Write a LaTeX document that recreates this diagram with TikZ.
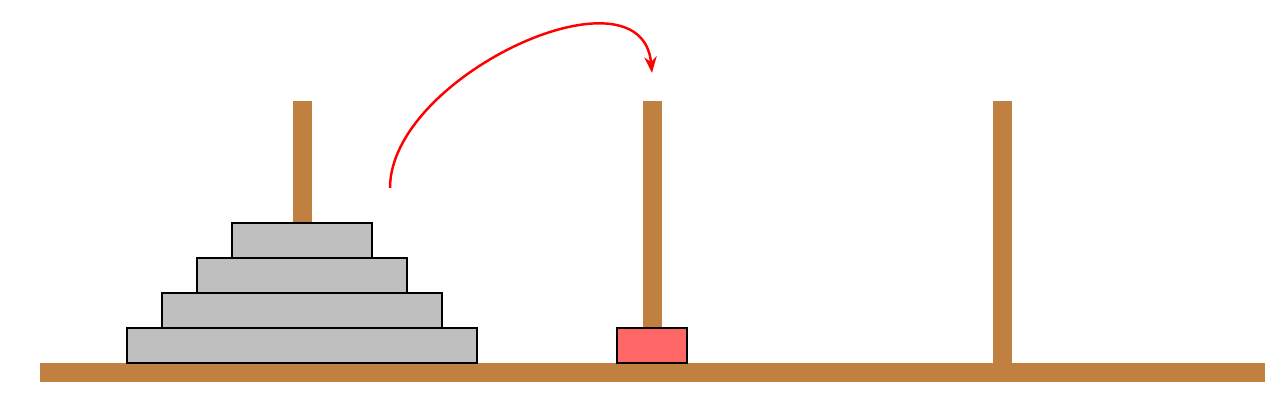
\documentclass[tikz,border=0pt]{standalone}
\usetikzlibrary{arrows.meta, positioning}

\definecolor{woodbrown}{RGB}{191,128,64}
\definecolor{diskgray}{RGB}{191,191,191}
\definecolor{movered}{RGB}{255,102,102}

\begin{document}
\begin{tikzpicture}[
    >=Stealth,
    % Style des pièces
    base/.style={
        fill=woodbrown,
        draw=none
    },
    peg/.style={
        rectangle,
        fill=woodbrown,
        minimum width=0.543cm,
        minimum height=7.486cm,
        inner sep=0pt,
        outer sep=0pt,
        anchor=south
    },
    disk/.style={
        rectangle,
        draw=black,
        fill=diskgray,
        line width=2pt,
        minimum height=1cm,
        inner sep=0pt,
        outer sep=0pt
    },
    movedisk/.style={
        disk,
        fill=movered,
        minimum width=2cm
    },
    move/.style={
        ->,
        red,
        line width=2pt,
        >={Stealth[length=13pt, width=10pt]}
    }
]
    \useasboundingbox (-8.629,-1.343) rectangle (27.971,10.371);

    % --- SOCLE ---
    \fill[base] (-7.486,-0.543) rectangle (27.514,0);

    % --- TIGES ---
    \foreach \p in {0,1,2}
        \node[peg] (peg\p) at (10*\p,0) {};

    % --- DISQUES ---
    \foreach \w [count=\i from 0] in {10,8,6,4}
        \node[disk, minimum width=\w cm] (disk\i) at (0,\i+0.5) {};

    % Disque déplacé sur la tige du milieu
    \node[movedisk] (small) at (10,0.5) {};

    % --- DÉPLACEMENT ---
    \coordinate (from) at (2.514,5);
    \coordinate (to) at (10,8.29);
    \draw[move] (from) .. controls (2.514,8.2) and (9.7,11.5) .. (to);

\end{tikzpicture}
\end{document}
